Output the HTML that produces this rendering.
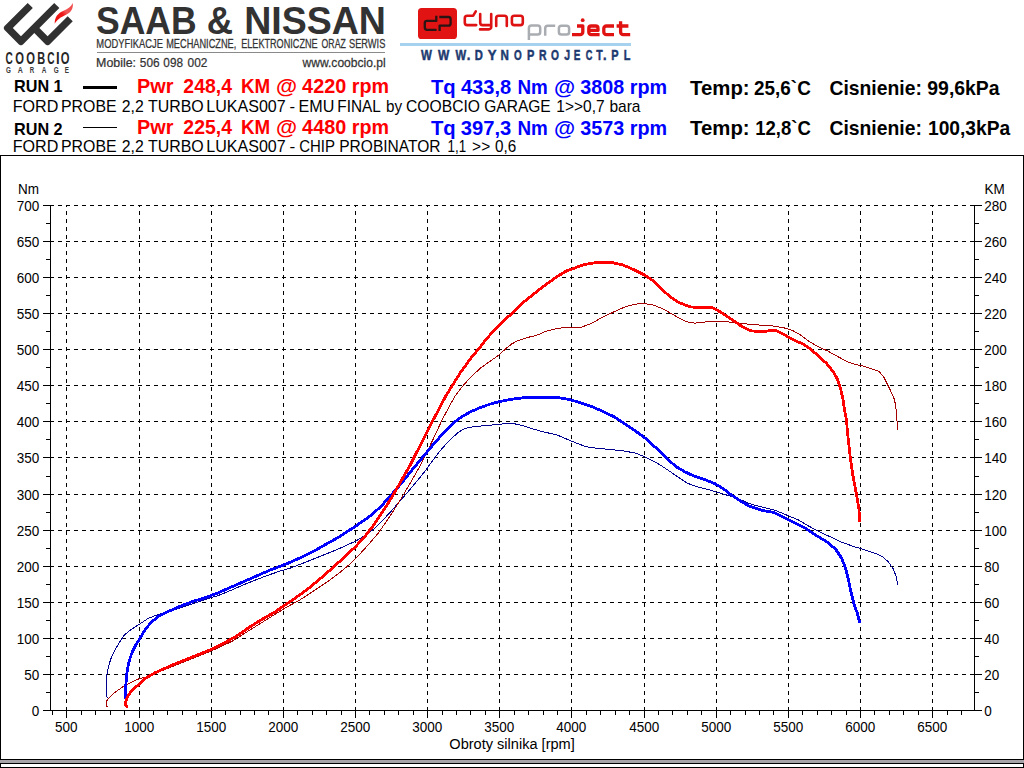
<!DOCTYPE html>
<html>
<head>
<meta charset="utf-8">
<title>Dyno chart</title>
<style>
html,body{margin:0;padding:0;background:#fff;}
body{width:1024px;height:768px;overflow:hidden;position:relative;font-family:"Liberation Sans",sans-serif;}
svg{position:absolute;left:0;top:0;}
text{font-family:"Liberation Sans",sans-serif;}
.g{stroke:#000;stroke-width:1;stroke-dasharray:4 4;shape-rendering:crispEdges;fill:none;}
.ax{stroke:#000;stroke-width:1;shape-rendering:crispEdges;fill:none;}
.lb{font-size:14.7px;fill:#000;}
.c{fill:none;stroke-linejoin:round;stroke-linecap:round;shape-rendering:crispEdges;}
.t{position:absolute;white-space:pre;line-height:1;margin:0;padding:0;}
.b{font-weight:bold;font-size:20px;}
.k{font-size:19.6px;}
.r{color:#ff0000;}
.u{color:#0000ff;font-size:20.06px;}
.n{font-size:15.70px;color:#000;}
.run{font-weight:bold;font-size:16.2px;color:#000;}
</style>
</head>
<body>
<svg width="1024" height="768" viewBox="0 0 1024 768">
<rect x="0" y="0" width="1024" height="768" fill="#fff"/>
<rect x="0.5" y="155.5" width="1023" height="604" fill="#fff" stroke="#000"/>
<line x1="50" y1="674.5" x2="975" y2="674.5" class="g"/>
<line x1="50" y1="638.5" x2="975" y2="638.5" class="g"/>
<line x1="50" y1="602.5" x2="975" y2="602.5" class="g"/>
<line x1="50" y1="566.5" x2="975" y2="566.5" class="g"/>
<line x1="50" y1="530.5" x2="975" y2="530.5" class="g"/>
<line x1="50" y1="494.5" x2="975" y2="494.5" class="g"/>
<line x1="50" y1="457.5" x2="975" y2="457.5" class="g"/>
<line x1="50" y1="421.5" x2="975" y2="421.5" class="g"/>
<line x1="50" y1="385.5" x2="975" y2="385.5" class="g"/>
<line x1="50" y1="349.5" x2="975" y2="349.5" class="g"/>
<line x1="50" y1="313.5" x2="975" y2="313.5" class="g"/>
<line x1="50" y1="277.5" x2="975" y2="277.5" class="g"/>
<line x1="50" y1="241.5" x2="975" y2="241.5" class="g"/>
<line x1="50" y1="205.5" x2="975" y2="205.5" class="g"/>
<line x1="66.5" y1="711" x2="66.5" y2="205" class="g"/>
<line x1="139.5" y1="711" x2="139.5" y2="205" class="g"/>
<line x1="211.5" y1="711" x2="211.5" y2="205" class="g"/>
<line x1="283.5" y1="711" x2="283.5" y2="205" class="g"/>
<line x1="355.5" y1="711" x2="355.5" y2="205" class="g"/>
<line x1="427.5" y1="711" x2="427.5" y2="205" class="g"/>
<line x1="499.5" y1="711" x2="499.5" y2="205" class="g"/>
<line x1="571.5" y1="711" x2="571.5" y2="205" class="g"/>
<line x1="644.5" y1="711" x2="644.5" y2="205" class="g"/>
<line x1="716.5" y1="711" x2="716.5" y2="205" class="g"/>
<line x1="788.5" y1="711" x2="788.5" y2="205" class="g"/>
<line x1="860.5" y1="711" x2="860.5" y2="205" class="g"/>
<line x1="932.5" y1="711" x2="932.5" y2="205" class="g"/>
<path class="ax" d="M43 710.5H982 M50.5 205V711 M974.5 205V711"/>
<path class="ax" d="M43 710.5H54 M971 710.5H982 M46 692.5H51 M974 692.5H979 M43 674.5H54 M971 674.5H982 M46 656.5H51 M974 656.5H979 M43 638.5H54 M971 638.5H982 M46 620.5H51 M974 620.5H979 M43 602.5H54 M971 602.5H982 M46 584.5H51 M974 584.5H979 M43 566.5H54 M971 566.5H982 M46 548.5H51 M974 548.5H979 M43 530.5H54 M971 530.5H982 M46 512.5H51 M974 512.5H979 M43 494.5H54 M971 494.5H982 M46 476.5H51 M974 476.5H979 M43 457.5H54 M971 457.5H982 M46 439.5H51 M974 439.5H979 M43 421.5H54 M971 421.5H982 M46 403.5H51 M974 403.5H979 M43 385.5H54 M971 385.5H982 M46 367.5H51 M974 367.5H979 M43 349.5H54 M971 349.5H982 M46 331.5H51 M974 331.5H979 M43 313.5H54 M971 313.5H982 M46 295.5H51 M974 295.5H979 M43 277.5H54 M971 277.5H982 M46 259.5H51 M974 259.5H979 M43 241.5H54 M971 241.5H982 M46 223.5H51 M974 223.5H979 M43 205.5H54 M971 205.5H982 M66.5 710V718 M139.5 710V718 M211.5 710V718 M283.5 710V718 M355.5 710V718 M427.5 710V718 M499.5 710V718 M571.5 710V718 M644.5 710V718 M716.5 710V718 M788.5 710V718 M860.5 710V718 M932.5 710V718 M52.5 710V715 M81.5 710V715 M95.5 710V715 M110.5 710V715 M124.5 710V715 M153.5 710V715 M167.5 710V715 M182.5 710V715 M196.5 710V715 M225.5 710V715 M240.5 710V715 M254.5 710V715 M268.5 710V715 M297.5 710V715 M312.5 710V715 M326.5 710V715 M341.5 710V715 M369.5 710V715 M384.5 710V715 M398.5 710V715 M413.5 710V715 M442.5 710V715 M456.5 710V715 M470.5 710V715 M485.5 710V715 M514.5 710V715 M528.5 710V715 M543.5 710V715 M557.5 710V715 M586.5 710V715 M600.5 710V715 M615.5 710V715 M629.5 710V715 M658.5 710V715 M672.5 710V715 M687.5 710V715 M701.5 710V715 M730.5 710V715 M745.5 710V715 M759.5 710V715 M773.5 710V715 M802.5 710V715 M817.5 710V715 M831.5 710V715 M846.5 710V715 M874.5 710V715 M889.5 710V715 M903.5 710V715 M918.5 710V715 M947.5 710V715 M961.5 710V715"/>
<text transform="translate(39.3 715.6) scale(0.92 1)" class="lb" text-anchor="end">0</text>
<text transform="translate(984.2 715.6) scale(0.92 1)" class="lb" text-anchor="start">0</text>
<text transform="translate(39.3 679.6) scale(0.92 1)" class="lb" text-anchor="end">50</text>
<text transform="translate(984.2 679.6) scale(0.92 1)" class="lb" text-anchor="start">20</text>
<text transform="translate(39.3 643.6) scale(0.92 1)" class="lb" text-anchor="end">100</text>
<text transform="translate(984.2 643.6) scale(0.92 1)" class="lb" text-anchor="start">40</text>
<text transform="translate(39.3 607.6) scale(0.92 1)" class="lb" text-anchor="end">150</text>
<text transform="translate(984.2 607.6) scale(0.92 1)" class="lb" text-anchor="start">60</text>
<text transform="translate(39.3 571.6) scale(0.92 1)" class="lb" text-anchor="end">200</text>
<text transform="translate(984.2 571.6) scale(0.92 1)" class="lb" text-anchor="start">80</text>
<text transform="translate(39.3 535.6) scale(0.92 1)" class="lb" text-anchor="end">250</text>
<text transform="translate(984.2 535.6) scale(0.92 1)" class="lb" text-anchor="start">100</text>
<text transform="translate(39.3 499.6) scale(0.92 1)" class="lb" text-anchor="end">300</text>
<text transform="translate(984.2 499.6) scale(0.92 1)" class="lb" text-anchor="start">120</text>
<text transform="translate(39.3 462.6) scale(0.92 1)" class="lb" text-anchor="end">350</text>
<text transform="translate(984.2 462.6) scale(0.92 1)" class="lb" text-anchor="start">140</text>
<text transform="translate(39.3 426.6) scale(0.92 1)" class="lb" text-anchor="end">400</text>
<text transform="translate(984.2 426.6) scale(0.92 1)" class="lb" text-anchor="start">160</text>
<text transform="translate(39.3 390.6) scale(0.92 1)" class="lb" text-anchor="end">450</text>
<text transform="translate(984.2 390.6) scale(0.92 1)" class="lb" text-anchor="start">180</text>
<text transform="translate(39.3 354.6) scale(0.92 1)" class="lb" text-anchor="end">500</text>
<text transform="translate(984.2 354.6) scale(0.92 1)" class="lb" text-anchor="start">200</text>
<text transform="translate(39.3 318.6) scale(0.92 1)" class="lb" text-anchor="end">550</text>
<text transform="translate(984.2 318.6) scale(0.92 1)" class="lb" text-anchor="start">220</text>
<text transform="translate(39.3 282.6) scale(0.92 1)" class="lb" text-anchor="end">600</text>
<text transform="translate(984.2 282.6) scale(0.92 1)" class="lb" text-anchor="start">240</text>
<text transform="translate(39.3 246.6) scale(0.92 1)" class="lb" text-anchor="end">650</text>
<text transform="translate(984.2 246.6) scale(0.92 1)" class="lb" text-anchor="start">260</text>
<text transform="translate(39.3 210.6) scale(0.92 1)" class="lb" text-anchor="end">700</text>
<text transform="translate(984.2 210.6) scale(0.92 1)" class="lb" text-anchor="start">280</text>
<text transform="translate(66.2 731.6) scale(0.92 1)" class="lb" text-anchor="middle">500</text>
<text transform="translate(139.2 731.6) scale(0.92 1)" class="lb" text-anchor="middle">1000</text>
<text transform="translate(211.2 731.6) scale(0.92 1)" class="lb" text-anchor="middle">1500</text>
<text transform="translate(283.2 731.6) scale(0.92 1)" class="lb" text-anchor="middle">2000</text>
<text transform="translate(355.2 731.6) scale(0.92 1)" class="lb" text-anchor="middle">2500</text>
<text transform="translate(427.2 731.6) scale(0.92 1)" class="lb" text-anchor="middle">3000</text>
<text transform="translate(499.2 731.6) scale(0.92 1)" class="lb" text-anchor="middle">3500</text>
<text transform="translate(571.2 731.6) scale(0.92 1)" class="lb" text-anchor="middle">4000</text>
<text transform="translate(644.2 731.6) scale(0.92 1)" class="lb" text-anchor="middle">4500</text>
<text transform="translate(716.2 731.6) scale(0.92 1)" class="lb" text-anchor="middle">5000</text>
<text transform="translate(788.2 731.6) scale(0.92 1)" class="lb" text-anchor="middle">5500</text>
<text transform="translate(860.2 731.6) scale(0.92 1)" class="lb" text-anchor="middle">6000</text>
<text transform="translate(932.2 731.6) scale(0.92 1)" class="lb" text-anchor="middle">6500</text>
<text transform="translate(17.9 193.8) scale(0.92 1)" class="lb" text-anchor="start">Nm</text>
<text transform="translate(984.4 193.8) scale(0.92 1)" class="lb" text-anchor="start">KM</text>
<text x="449.3" y="748.5" class="lb" textLength="125.5" lengthAdjust="spacingAndGlyphs">Obroty silnika [rpm]</text>
<polyline class="c" stroke="#000090" stroke-width="1" points="107.1,697.6 106.3,694.4 106.3,677.5 107.7,670.0 110.5,659.7 114.8,650.3 120.4,640.9 124.2,635.2 131.0,629.5 140.0,623.8 147.8,618.6 155.6,615.5 161.9,613.6 175.0,609.5 190.0,604.8 208.8,598.3 218.1,595.6 230.6,590.5 243.1,585.0 255.6,580.0 268.1,575.2 280.6,570.9 290.0,568.2 305.6,562.2 321.2,555.9 336.9,549.7 355.6,541.1 365.0,535.6 374.4,528.6 383.8,519.2 393.1,509.1 402.5,498.1 411.9,487.2 419.7,477.8 425.9,470.0 433.0,460.0 440.0,450.9 446.2,443.9 452.5,437.7 458.0,432.5 463.4,429.4 468.1,427.5 475.9,426.4 486.9,425.5 499.4,424.4 508.8,423.1 515.0,423.9 522.8,425.6 530.6,428.3 541.6,431.4 557.2,435.0 565.0,438.4 574.4,442.3 583.8,445.9 590.0,447.5 600.0,448.5 610.0,449.5 621.2,450.6 635.3,453.0 644.7,456.7 655.6,462.2 665.0,468.1 675.9,475.6 686.9,483.0 696.2,486.6 705.6,488.8 715.0,491.6 724.4,494.4 730.6,496.2 740.0,499.5 751.7,504.4 763.4,507.3 775.2,510.3 786.9,515.2 798.6,520.0 808.4,525.9 818.1,531.2 829.8,536.6 841.6,542.1 853.3,546.4 865.0,549.9 876.7,553.8 882.6,556.6 888.4,562.0 893.3,568.9 896.2,576.7 897.6,584.5"/>
<polyline class="c" stroke="#a40000" stroke-width="1" points="107.2,707.0 106.3,704.7 106.8,700.9 108.2,698.6 114.8,692.5 124.1,685.9 133.5,681.2 140.0,678.4 147.1,676.7 160.0,671.5 175.0,665.5 190.0,659.5 205.0,653.5 218.0,648.0 232.0,641.3 249.4,630.3 261.9,622.5 274.4,614.7 286.9,607.0 299.4,600.3 315.8,589.5 327.5,581.7 340.0,572.3 349.4,564.5 358.8,555.2 368.1,545.0 377.5,534.1 385.3,523.1 393.1,511.4 400.9,498.9 408.8,485.6 415.0,474.7 417.8,470.0 424.0,458.0 433.0,439.5 442.3,419.5 449.4,406.2 455.6,395.3 463.4,385.2 471.2,376.6 480.6,368.0 491.6,360.2 499.4,354.7 505.6,348.8 511.9,343.8 518.1,340.6 527.5,337.5 536.9,335.2 546.2,331.2 555.6,328.9 563.4,327.7 572.8,327.5 581.9,327.0 591.2,323.4 602.2,317.5 613.1,312.2 625.6,306.6 635.0,304.2 642.8,303.4 652.2,304.7 661.6,308.3 670.9,313.3 680.3,318.8 688.1,322.2 694.4,323.1 700.0,322.8 709.4,321.2 723.4,321.2 737.5,323.1 754.7,324.7 771.9,325.9 782.8,327.5 792.2,330.3 800.0,334.5 809.4,341.6 818.8,347.0 828.1,351.2 837.5,356.4 846.9,361.6 853.1,363.8 860.0,365.5 863.3,366.0 879.0,371.2 884.2,377.8 889.4,388.2 894.6,399.9 896.7,412.9 897.4,429.8"/>
<polyline class="c" stroke="#0000ff" stroke-width="2.8" points="126.0,699.5 125.5,696.2 125.8,685.0 126.5,677.5 127.4,669.0 129.3,660.6 132.1,652.2 135.4,645.6 138.6,640.5 140.0,638.1 144.7,630.3 150.9,622.5 158.8,616.2 168.1,611.6 180.6,606.1 193.1,601.4 205.6,597.5 218.1,592.8 230.6,587.3 243.1,581.9 255.6,576.4 268.1,570.9 280.6,566.2 290.0,562.4 302.5,556.7 315.0,550.5 327.5,543.4 340.0,536.4 355.6,526.2 371.2,515.3 380.6,506.7 390.0,496.6 399.4,485.6 407.2,476.2 411.9,470.0 420.4,460.0 430.0,448.3 440.0,436.9 447.8,428.3 455.6,421.2 463.4,415.8 471.2,411.4 480.6,407.5 490.0,404.1 499.4,401.7 510.3,399.4 525.9,397.5 557.2,397.5 565.0,398.6 572.8,400.5 583.8,403.8 593.1,407.2 602.5,411.1 615.0,417.3 624.4,423.6 635.3,430.9 644.7,437.7 652.5,444.7 661.9,453.3 668.1,459.5 675.9,466.6 685.3,472.0 694.7,476.4 705.6,479.8 715.0,483.8 722.8,488.4 730.6,494.4 740.0,500.7 749.8,506.4 761.5,510.3 773.2,512.2 783.0,517.1 794.7,523.0 806.4,528.8 818.1,536.6 827.9,542.5 835.7,549.3 841.6,558.1 845.5,567.9 848.4,579.6 851.3,593.3 854.3,605.0 857.2,612.8 859.5,621.6"/>
<polyline class="c" stroke="#ff0000" stroke-width="2.8" points="126.9,706.5 125.2,704.2 126.0,700.9 128.3,695.3 133.5,688.7 139.6,684.0 144.7,678.6 155.6,672.5 171.2,665.5 186.9,659.2 202.5,653.0 211.9,649.1 224.4,642.8 236.9,635.8 249.4,627.2 261.9,619.4 274.4,612.3 286.9,603.8 299.4,595.2 307.2,589.5 321.2,577.8 333.8,566.9 344.7,556.7 355.6,546.6 365.0,536.4 372.8,526.2 380.6,514.5 386.9,505.2 393.1,495.0 399.4,484.1 405.6,473.1 410.0,465.5 414.5,456.5 424.3,437.6 433.4,419.6 440.0,407.0 446.2,395.3 452.5,385.2 460.3,372.7 471.2,357.8 479.1,348.4 486.9,338.3 499.4,325.0 511.9,313.3 525.2,300.8 541.2,288.0 555.3,277.8 560.0,274.8 566.2,271.1 572.5,268.8 583.4,264.8 595.9,262.5 611.6,262.5 622.5,264.8 633.4,269.5 644.4,275.0 653.8,281.2 661.6,289.1 669.4,296.1 677.2,301.6 685.0,305.0 691.2,307.0 700.0,307.5 711.7,307.5 717.2,310.0 725.0,315.0 734.4,321.2 742.2,326.7 750.0,330.6 756.2,331.4 765.6,331.4 770.3,330.6 776.6,330.9 782.8,333.8 789.1,337.7 795.3,340.8 803.1,343.9 810.9,349.4 818.8,356.4 826.6,363.4 832.8,371.2 837.5,379.1 840.6,388.4 843.0,399.4 844.5,409.5 846.4,420.0 848.2,439.0 850.3,457.2 852.9,475.4 856.8,496.2 858.9,509.3 859.7,521.0"/>
<text transform="translate(12.71 112.10) scale(1.0266 1)" font-size="15.7" font-weight="normal" fill="#000">FORD</text>
<text transform="translate(61.03 112.10) scale(1.0119 1)" font-size="15.7" font-weight="normal" fill="#000">PROBE</text>
<text transform="translate(121.71 112.10) scale(1.0073 1)" font-size="15.7" font-weight="normal" fill="#000">2,2</text>
<text transform="translate(147.98 112.10) scale(1.0158 1)" font-size="15.7" font-weight="normal" fill="#000">TURBO</text>
<text transform="translate(206.21 112.10) scale(1.0239 1)" font-size="15.7" font-weight="normal" fill="#000">LUKAS007</text>
<text transform="translate(289.45 112.10) scale(1.0659 1)" font-size="15.7" font-weight="normal" fill="#000">-</text>
<text transform="translate(298.61 112.10) scale(1.0271 1)" font-size="15.7" font-weight="normal" fill="#000">EMU</text>
<text transform="translate(337.37 112.10) scale(0.9794 1)" font-size="15.7" font-weight="normal" fill="#000">FINAL</text>
<text transform="translate(385.91 112.10) scale(0.9715 1)" font-size="15.7" font-weight="normal" fill="#000">by</text>
<text transform="translate(406.02 112.10) scale(0.9985 1)" font-size="15.7" font-weight="normal" fill="#000">COOBCIO</text>
<text transform="translate(484.22 112.10) scale(0.9908 1)" font-size="15.7" font-weight="normal" fill="#000">GARAGE</text>
<text transform="translate(556.34 112.10) scale(0.9884 1)" font-size="15.7" font-weight="normal" fill="#000">1&gt;&gt;0,7</text>
<text transform="translate(609.39 112.10) scale(0.9908 1)" font-size="15.7" font-weight="normal" fill="#000">bara</text>
<text transform="translate(12.71 151.90) scale(1.0266 1)" font-size="15.7" font-weight="normal" fill="#000">FORD</text>
<text transform="translate(61.03 151.90) scale(1.0119 1)" font-size="15.7" font-weight="normal" fill="#000">PROBE</text>
<text transform="translate(121.71 151.90) scale(1.0073 1)" font-size="15.7" font-weight="normal" fill="#000">2,2</text>
<text transform="translate(147.98 151.90) scale(1.0158 1)" font-size="15.7" font-weight="normal" fill="#000">TURBO</text>
<text transform="translate(206.21 151.90) scale(1.0239 1)" font-size="15.7" font-weight="normal" fill="#000">LUKAS007</text>
<text transform="translate(289.47 151.90) scale(1.1049 1)" font-size="15.7" font-weight="normal" fill="#000">-</text>
<text transform="translate(299.25 151.90) scale(0.9533 1)" font-size="15.7" font-weight="normal" fill="#000">CHIP</text>
<text transform="translate(339.26 151.90) scale(0.9900 1)" font-size="15.7" font-weight="normal" fill="#000">PROBINATOR</text>
<text transform="translate(447.50 151.90) scale(0.8526 1)" font-size="15.7" font-weight="normal" fill="#000">1,1</text>
<text transform="translate(472.12 151.90) scale(0.9882 1)" font-size="15.7" font-weight="normal" fill="#000">&gt;&gt;</text>
<text transform="translate(494.99 151.90) scale(0.9724 1)" font-size="15.7" font-weight="normal" fill="#000">0,6</text>
<text transform="translate(136.91 93.13) scale(0.9943 1)" font-size="20" font-weight="bold" fill="#ff0000">Pwr</text>
<text transform="translate(183.32 93.13) scale(0.9736 1)" font-size="20" font-weight="bold" fill="#ff0000">248,4</text>
<text transform="translate(240.88 93.13) scale(0.9401 1)" font-size="20" font-weight="bold" fill="#ff0000">KM</text>
<text transform="translate(275.91 93.13) scale(1.0809 1)" font-size="20" font-weight="bold" fill="#ff0000">@</text>
<text transform="translate(302.10 93.13) scale(0.9931 1)" font-size="20" font-weight="bold" fill="#ff0000">4220</text>
<text transform="translate(351.72 93.13) scale(0.9858 1)" font-size="20" font-weight="bold" fill="#ff0000">rpm</text>
<text transform="translate(136.91 133.83) scale(0.9943 1)" font-size="20" font-weight="bold" fill="#ff0000">Pwr</text>
<text transform="translate(183.32 133.83) scale(0.9736 1)" font-size="20" font-weight="bold" fill="#ff0000">225,4</text>
<text transform="translate(240.88 133.83) scale(0.9401 1)" font-size="20" font-weight="bold" fill="#ff0000">KM</text>
<text transform="translate(275.91 133.83) scale(1.0809 1)" font-size="20" font-weight="bold" fill="#ff0000">@</text>
<text transform="translate(302.10 133.83) scale(0.9931 1)" font-size="20" font-weight="bold" fill="#ff0000">4480</text>
<text transform="translate(351.72 133.83) scale(0.9858 1)" font-size="20" font-weight="bold" fill="#ff0000">rpm</text>
<text transform="translate(431.00 93.98) scale(1.0131 1)" font-size="20" font-weight="bold" fill="#0000ff">Tq</text>
<text transform="translate(460.90 93.98) scale(1.0041 1)" font-size="20" font-weight="bold" fill="#0000ff">433,8</text>
<text transform="translate(517.47 93.98) scale(0.9428 1)" font-size="20" font-weight="bold" fill="#0000ff">Nm</text>
<text transform="translate(554.06 93.98) scale(1.0838 1)" font-size="20" font-weight="bold" fill="#0000ff">@</text>
<text transform="translate(580.31 93.98) scale(0.9862 1)" font-size="20" font-weight="bold" fill="#0000ff">3808</text>
<text transform="translate(629.81 93.98) scale(0.9887 1)" font-size="20" font-weight="bold" fill="#0000ff">rpm</text>
<text transform="translate(431.00 134.68) scale(1.0131 1)" font-size="20" font-weight="bold" fill="#0000ff">Tq</text>
<text transform="translate(460.69 134.68) scale(1.0102 1)" font-size="20" font-weight="bold" fill="#0000ff">397,3</text>
<text transform="translate(517.47 134.68) scale(0.9428 1)" font-size="20" font-weight="bold" fill="#0000ff">Nm</text>
<text transform="translate(554.06 134.68) scale(1.0838 1)" font-size="20" font-weight="bold" fill="#0000ff">@</text>
<text transform="translate(580.31 134.68) scale(0.9885 1)" font-size="20" font-weight="bold" fill="#0000ff">3573</text>
<text transform="translate(629.81 134.68) scale(0.9887 1)" font-size="20" font-weight="bold" fill="#0000ff">rpm</text>
<text transform="translate(690.10 95.29) scale(1.0394 1)" font-size="19.6" font-weight="bold" fill="#000">Temp:</text>
<text transform="translate(754.04 95.29) scale(0.9649 1)" font-size="19.6" font-weight="bold" fill="#000">25,6`C</text>
<text transform="translate(829.43 95.29) scale(0.9874 1)" font-size="19.6" font-weight="bold" fill="#000">Cisnienie:</text>
<text transform="translate(927.32 95.29) scale(0.9901 1)" font-size="19.6" font-weight="bold" fill="#000">99,6kPa</text>
<text transform="translate(690.10 134.99) scale(1.0394 1)" font-size="19.6" font-weight="bold" fill="#000">Temp:</text>
<text transform="translate(755.29 134.99) scale(0.9451 1)" font-size="19.6" font-weight="bold" fill="#000">12,8`C</text>
<text transform="translate(829.43 134.99) scale(0.9874 1)" font-size="19.6" font-weight="bold" fill="#000">Cisnienie:</text>
<text transform="translate(927.95 134.99) scale(0.9806 1)" font-size="19.6" font-weight="bold" fill="#000">100,3kPa</text>
<!-- bottom bars -->
<rect x="0" y="760" width="1024" height="3" fill="#a6a3a9"/>
<rect x="0" y="763" width="1024" height="1" fill="#000"/>
<rect x="0" y="764" width="1" height="3" fill="#000"/>
<rect x="1023" y="764" width="1" height="3" fill="#000"/>
<rect x="0" y="767" width="1024" height="1" fill="#000"/>
<!-- legend lines -->
<rect x="83" y="86" width="34" height="3" fill="#000"/>
<rect x="83" y="127" width="34" height="1" fill="#000"/>
<path d="M24.17 6.46 L24.17 6.46 L4.59 26.07 L4.24 26.50 L3.98 26.98 L3.82 27.51 L3.77 28.05 L3.82 28.60 L3.98 29.12 L4.24 29.61 L4.59 30.03 L18.98 44.42 L19.40 44.77 L19.89 45.03 L20.41 45.19 L20.96 45.24 L21.51 45.19 L22.03 45.03 L22.52 44.77 L22.94 44.42 L34.29 33.08 L45.62 44.41 L46.04 44.76 L46.53 45.02 L47.05 45.18 L47.60 45.23 L48.15 45.18 L48.67 45.02 L49.16 44.76 L49.58 44.41 L70.77 23.23 L72.75 21.25 L67.65 16.15 L65.67 18.13 L47.60 36.21 L39.38 27.98 L55.81 11.55 L57.37 10.00 L59.35 8.02 L57.37 6.04 L56.23 4.90 L54.25 2.92 L52.27 4.90 L50.72 6.46 L20.96 36.22 L12.79 28.05 L30.82 10.00 L30.83 9.98 L32.80 8.02 L30.82 6.04 L30.82 6.04 L30.25 5.47 L27.70 2.92 L24.17 6.46Z" fill="#313131"/>
<defs><linearGradient id="fg" x1="0" y1="1" x2="1" y2="0"><stop offset="0" stop-color="#ee0c0c"/><stop offset="0.45" stop-color="#ee1a1a"/><stop offset="0.6" stop-color="#f25555"/><stop offset="1" stop-color="#f04a4a"/></linearGradient></defs>
<path d="M54.7 23.8 C54.6 17 58 13.2 63.5 10.8 C68 8.8 71.2 6.5 72.7 3 C73.6 8.5 71 12.4 66 14.7 C60.5 17.2 57.2 19.6 54.7 23.8Z" fill="url(#fg)"/>
<text transform="translate(5.50 63.80) scale(0.6070 1)" font-size="16.6" font-weight="bold" fill="#262626">C</text>
<text transform="translate(15.15 63.80) scale(0.6761 1)" font-size="16.6" font-weight="bold" fill="#262626">O</text>
<text transform="translate(26.15 63.80) scale(0.6761 1)" font-size="16.6" font-weight="bold" fill="#262626">O</text>
<text transform="translate(37.19 63.80) scale(0.6617 1)" font-size="16.6" font-weight="bold" fill="#262626">B</text>
<text transform="translate(47.30 63.80) scale(0.6070 1)" font-size="16.6" font-weight="bold" fill="#262626">C</text>
<text transform="translate(56.05 63.80) scale(0.7894 1)" font-size="16.6" font-weight="bold" fill="#262626">I</text>
<text transform="translate(60.85 63.80) scale(0.6761 1)" font-size="16.6" font-weight="bold" fill="#262626">O</text>
<text transform="translate(6.00 72.85) scale(0.7407 1)" font-size="8.5" font-weight="bold" fill="#3a3a3a">G</text>
<text transform="translate(17.82 72.85) scale(0.8253 1)" font-size="8.5" font-weight="bold" fill="#3a3a3a">A</text>
<text transform="translate(29.70 72.85) scale(0.7226 1)" font-size="8.5" font-weight="bold" fill="#3a3a3a">R</text>
<text transform="translate(41.64 72.85) scale(0.7550 1)" font-size="8.5" font-weight="bold" fill="#3a3a3a">A</text>
<text transform="translate(53.65 72.85) scale(0.7495 1)" font-size="8.5" font-weight="bold" fill="#3a3a3a">G</text>
<text transform="translate(64.79 72.85) scale(0.7392 1)" font-size="8.5" font-weight="bold" fill="#3a3a3a">E</text>
<text transform="translate(95.99 33.75) scale(0.9282 1)" font-size="38.3" font-weight="bold" fill="#323232">SAAB</text>
<text transform="translate(206.66 33.75) scale(0.9493 1)" font-size="38.3" font-weight="bold" fill="#323232">&amp;</text>
<text transform="translate(244.16 33.75) scale(0.9799 1)" font-size="38.3" font-weight="bold" fill="#323232">NISSAN</text>
<text transform="translate(96.35 47.70) scale(0.7756 1)" font-size="12.1" font-weight="normal" fill="#333" stroke="#333" stroke-width="0.25">MODYFIKACJE</text>
<text transform="translate(166.16 47.70) scale(0.7626 1)" font-size="12.1" font-weight="normal" fill="#333" stroke="#333" stroke-width="0.25">MECHANICZNE,</text>
<text transform="translate(241.17 47.70) scale(0.7535 1)" font-size="12.1" font-weight="normal" fill="#333" stroke="#333" stroke-width="0.25">ELEKTRONICZNE</text>
<text transform="translate(321.61 47.70) scale(0.7193 1)" font-size="12.1" font-weight="normal" fill="#333" stroke="#333" stroke-width="0.25">ORAZ</text>
<text transform="translate(348.98 47.70) scale(0.7672 1)" font-size="12.1" font-weight="normal" fill="#333" stroke="#333" stroke-width="0.25">SERWIS</text>
<rect x="97" y="52" width="288" height="1" fill="#8a8a8a"/>
<text transform="translate(96.07 67.20) scale(0.9399 1)" font-size="13.2" font-weight="normal" fill="#333" stroke="#333" stroke-width="0.25">Mobile:</text>
<text transform="translate(139.83 67.20) scale(0.8986 1)" font-size="13.2" font-weight="normal" fill="#333" stroke="#333" stroke-width="0.25">506</text>
<text transform="translate(163.33 67.20) scale(0.8938 1)" font-size="13.2" font-weight="normal" fill="#333" stroke="#333" stroke-width="0.25">098</text>
<text transform="translate(187.52 67.20) scale(0.9019 1)" font-size="13.2" font-weight="normal" fill="#333" stroke="#333" stroke-width="0.25">002</text>
<text transform="translate(302.50 67.20) scale(0.9158 1)" font-size="13.2" font-weight="normal" fill="#333" stroke="#333" stroke-width="0.25">www.coobcio.pl</text>
<rect x="418" y="8" width="39" height="31" rx="3.6" fill="#e21313"/>
<g fill="none" stroke="#2b1414" stroke-width="2.3" stroke-linejoin="round">
<path d="M436.3 15.8V20.9H427a2.2 2.2 0 0 0 -2.2 2.2V27.6a2.2 2.2 0 0 0 2.2 2.2H436.6"/>
<path d="M439.6 30.9V25.6H448.4a2.2 2.2 0 0 0 2.2 -2.2V19.2a2.2 2.2 0 0 0 -2.2 -2.2H439.3"/>
</g>
<g fill="none" stroke="#de1212" stroke-width="2.6" stroke-linejoin="round" stroke-linecap="round">
<path d="M476.2 25.1H467.2a2.4 2.4 0 0 1 -2.4 -2.4V18.1a2.4 2.4 0 0 1 2.4 -2.4H473.2L475.8 11.4"/>
<path d="M480.2 14V22.7a2.4 2.4 0 0 0 2.4 2.4H491 M491.2 14V27a2.4 2.4 0 0 1 -2.4 2.4H480"/>
<path d="M496.2 26V18.1a2.4 2.4 0 0 1 2.4 -2.4H504.4a2.4 2.4 0 0 1 2.4 2.4V26"/>
<rect x="511.9" y="15.7" width="10.9" height="9.4" rx="2.4"/>
</g>
<g fill="none" stroke="#a9acb1" stroke-width="2.5" stroke-linejoin="round">
<path d="M528.9 40V28.2a2.6 2.6 0 0 1 2.6 -2.6H537.6a2.6 2.6 0 0 1 2.6 2.6V32a2.6 2.6 0 0 1 -2.6 2.6H529"/>
<path d="M545.2 35.7V28.4a2.6 2.6 0 0 1 2.6 -2.6H555.2"/>
<rect x="558.9" y="25.7" width="10.2" height="8.9" rx="2.6"/>
</g>
<g fill="none" stroke="#e01212" stroke-width="3.3" stroke-linejoin="round">
<path d="M577 26H582.8V32a2.6 2.6 0 0 1 -2.6 2.6H572"/>
<path d="M599.6 34.6H591.2a2.4 2.4 0 0 1 -2.4 -2.4V28.4a2.4 2.4 0 0 1 2.4 -2.4H595.6a2.4 2.4 0 0 1 2.4 2.4V30.4H589"/>
<path d="M614 26H606.4a2.6 2.6 0 0 0 -2.6 2.6V32a2.6 2.6 0 0 0 2.6 2.6H614"/>
<path d="M616.6 26H628.4 M620.6 21.2V32a2.6 2.6 0 0 0 2.6 2.6H630.2"/>
</g>
<circle cx="582.7" cy="20.2" r="1.9" fill="#e01212"/>
<rect x="400" y="43" width="231" height="3" fill="#a6d2ef"/>
<text transform="translate(421.00 59.80) scale(0.7955 1)" font-size="14.5" font-weight="bold" fill="#1d3a70" stroke="#1d3a70" stroke-width="0.5">W</text>
<text transform="translate(438.10 59.80) scale(0.8247 1)" font-size="14.5" font-weight="bold" fill="#1d3a70" stroke="#1d3a70" stroke-width="0.5">W</text>
<text transform="translate(455.60 59.80) scale(0.7772 1)" font-size="14.5" font-weight="bold" fill="#1d3a70" stroke="#1d3a70" stroke-width="0.5">W</text>
<text transform="translate(466.65 59.80) scale(0.9037 1)" font-size="14.5" font-weight="bold" fill="#1d3a70" stroke="#1d3a70" stroke-width="0.5">.</text>
<text transform="translate(474.87 59.80) scale(0.7738 1)" font-size="14.5" font-weight="bold" fill="#1d3a70" stroke="#1d3a70" stroke-width="0.5">D</text>
<text transform="translate(487.74 59.80) scale(0.9031 1)" font-size="14.5" font-weight="bold" fill="#1d3a70" stroke="#1d3a70" stroke-width="0.5">Y</text>
<text transform="translate(500.50 59.80) scale(0.8007 1)" font-size="14.5" font-weight="bold" fill="#1d3a70" stroke="#1d3a70" stroke-width="0.5">N</text>
<text transform="translate(514.00 59.80) scale(0.6847 1)" font-size="14.5" font-weight="bold" fill="#1d3a70" stroke="#1d3a70" stroke-width="0.5">O</text>
<text transform="translate(526.88 59.80) scale(0.7623 1)" font-size="14.5" font-weight="bold" fill="#1d3a70" stroke="#1d3a70" stroke-width="0.5">P</text>
<text transform="translate(539.07 59.80) scale(0.7222 1)" font-size="14.5" font-weight="bold" fill="#1d3a70" stroke="#1d3a70" stroke-width="0.5">R</text>
<text transform="translate(550.99 59.80) scale(0.7045 1)" font-size="14.5" font-weight="bold" fill="#1d3a70" stroke="#1d3a70" stroke-width="0.5">O</text>
<text transform="translate(564.34 59.80) scale(0.7260 1)" font-size="14.5" font-weight="bold" fill="#1d3a70" stroke="#1d3a70" stroke-width="0.5">J</text>
<text transform="translate(573.86 59.80) scale(0.6836 1)" font-size="14.5" font-weight="bold" fill="#1d3a70" stroke="#1d3a70" stroke-width="0.5">E</text>
<text transform="translate(585.63 59.80) scale(0.6317 1)" font-size="14.5" font-weight="bold" fill="#1d3a70" stroke="#1d3a70" stroke-width="0.5">C</text>
<text transform="translate(596.29 59.80) scale(0.7247 1)" font-size="14.5" font-weight="bold" fill="#1d3a70" stroke="#1d3a70" stroke-width="0.5">T</text>
<text transform="translate(603.07 59.80) scale(0.8799 1)" font-size="14.5" font-weight="bold" fill="#1d3a70" stroke="#1d3a70" stroke-width="0.5">.</text>
<text transform="translate(611.29 59.80) scale(0.7562 1)" font-size="14.5" font-weight="bold" fill="#1d3a70" stroke="#1d3a70" stroke-width="0.5">P</text>
<text transform="translate(623.79 59.80) scale(0.7499 1)" font-size="14.5" font-weight="bold" fill="#1d3a70" stroke="#1d3a70" stroke-width="0.5">L</text>
</svg>

<div class="t run" style="left:14px;top:77.8px;">RUN 1</div>

<div class="t run" style="left:14px;top:120.8px;">RUN 2</div>
</body>
</html>
